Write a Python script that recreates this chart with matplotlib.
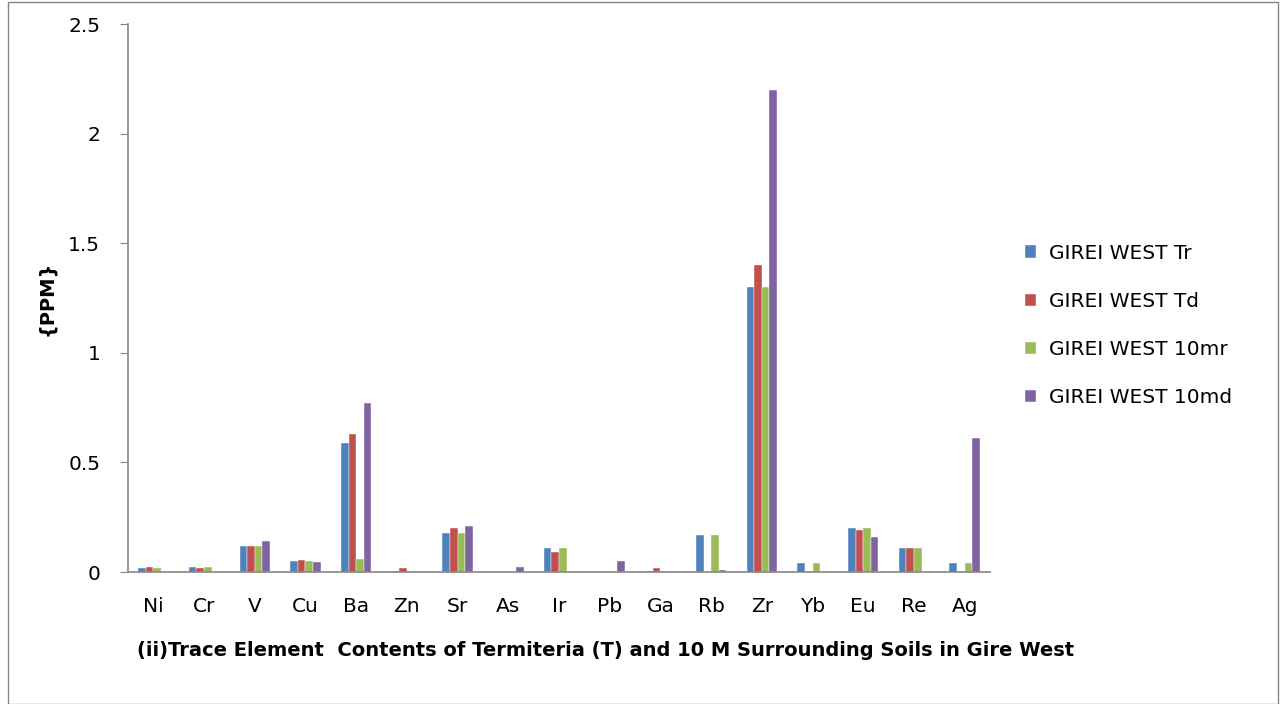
import matplotlib
matplotlib.use('Agg')
import matplotlib.pyplot as plt
import numpy as np

# trace element contents, ppm
elements = ['Ni', 'Cr', 'V', 'Cu', 'Ba', 'Zn', 'Sr', 'As', 'Ir', 'Pb', 'Ga', 'Rb', 'Zr', 'Yb', 'Eu', 'Re', 'Ag']
tr   = [0.02, 0.025, 0.12, 0.05, 0.59, 0.005, 0.18, 0, 0.11, 0, 0.005, 0.17, 1.3, 0.04, 0.2, 0.11, 0.04]
td   = [0.025, 0.02, 0.12, 0.055, 0.63, 0.02, 0.2, 0, 0.09, 0, 0.02, 0, 1.4, 0, 0.19, 0.11, 0]
mr10 = [0.02, 0.025, 0.12, 0.05, 0.06, 0.005, 0.18, 0, 0.11, 0, 0.005, 0.17, 1.3, 0.04, 0.2, 0.11, 0.04]
md10 = [0, 0, 0.14, 0.045, 0.77, 0, 0.21, 0.025, 0, 0.05, 0, 0.01, 2.2, 0, 0.16, 0, 0.61]

series = [('GIREI WEST Tr', tr, '#4f81bd'),
          ('GIREI WEST Td', td, '#c0504d'),
          ('GIREI WEST 10mr', mr10, '#9bbb59'),
          ('GIREI WEST 10md', md10, '#8064a2')]

plt.rcParams['font.family'] = ['DejaVu Sans']

fig = plt.figure(figsize=(12.86, 7.04), dpi=100)
ax = fig.add_axes([128 / 1286, 1 - 572 / 704, 862 / 1286, 548 / 704])

x = np.arange(len(elements))
w = 0.15
for i, (name, vals, col) in enumerate(series):
    ax.bar(x + (i - 1.5) * w, vals, w, color=col, label=name, edgecolor='white', linewidth=0.3)

ax.set_xlim(-0.5, len(elements) - 0.5)
ax.set_ylim(0, 2.5)
ax.set_yticks([0, 0.5, 1, 1.5, 2, 2.5])
ax.set_yticklabels(['0', '0.5', '1', '1.5', '2', '2.5'])
ax.set_xticks(x)
ax.set_xticklabels(elements)
ax.tick_params(axis='y', direction='out', length=6, color='#868686', labelsize=14.5, pad=14)
ax.tick_params(axis='x', length=0, labelsize=14.5, pad=18)
for s in ['top', 'right']:
    ax.spines[s].set_visible(False)
for s in ['left', 'bottom']:
    ax.spines[s].set_color('#868686')
    ax.spines[s].set_linewidth(1.2)

ax.set_ylabel('{PPM}', fontsize=14, fontweight='bold', labelpad=9)
ax.set_xlabel('(ii)Trace Element  Contents of Termiteria (T) and 10 M Surrounding Soils in Gire West',
              fontsize=14, fontweight='bold')
ax.xaxis.set_label_coords(0.5545, -0.125)

ax.legend(loc='center left', bbox_to_anchor=(1.02, 0.45), frameon=False, fontsize=14.5,
          handlelength=0.55, handleheight=0.55, labelspacing=1.45, handletextpad=0.6)

# outer chart frame
fig.patches.append(plt.Rectangle((8 / 1286, 0), 1 - 16 / 1286, 1 - 2 / 704, transform=fig.transFigure,
                                 fill=False, edgecolor='#868686', linewidth=1))

fig.savefig('out.png', dpi=100)
